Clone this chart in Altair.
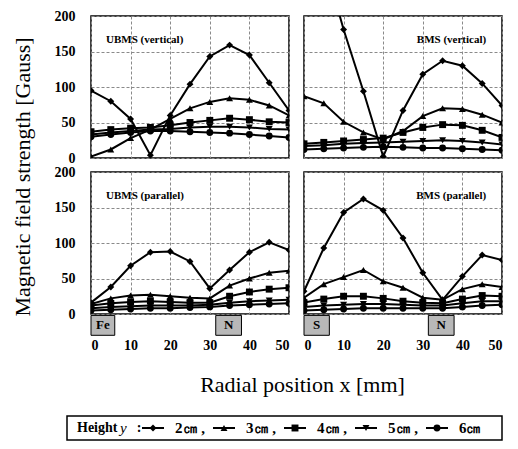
import altair as alt
import pandas as pd

FONT = "'Liberation Serif', 'Times New Roman', 'DejaVu Serif', serif"

# radial positions (mm)
x_pos = [0, 5, 10, 15, 20, 25, 30, 35, 40, 45, 50]
heights = ["2cm", "3cm", "4cm", "5cm", "6cm"]
shapes = ["diamond", "triangle-up", "square", "triangle-down", "circle"]
legend_labels = ["2㎝ ,", "3㎝ ,", "4㎝ ,", "5㎝ ,", "6㎝"]

# UBMS (vertical)
ubms_v_2 = [95, 80, 55, 4, 60, 104, 143, 159, 145, 106, 67]
ubms_v_3 = [2, 12, 28, 40, 55, 70, 79, 84, 82, 74, 60]
ubms_v_4 = [37, 40, 42, 43, 46, 50, 53, 56, 54, 51, 50]
ubms_v_5 = [33, 36, 38, 40, 41, 43, 44, 44, 43, 41, 40]
ubms_v_6 = [30, 33, 36, 38, 38, 37, 36, 35, 33, 31, 29]

# BMS (vertical)
bms_v_2 = [360, 280, 181, 94, 2, 67, 118, 137, 130, 105, 74]
bms_v_3 = [87, 77, 51, 36, 26, 38, 59, 70, 69, 61, 50]
bms_v_4 = [20, 22, 24, 26, 28, 36, 43, 47, 46, 39, 29]
bms_v_5 = [17, 18, 20, 21, 22, 23, 24, 25, 24, 22, 19]
bms_v_6 = [12, 13, 14, 15, 16, 15, 14, 14, 13, 12, 11]

# UBMS (parallel)
ubms_p_2 = [16, 38, 68, 87, 88, 74, 36, 62, 87, 101, 90]
ubms_p_3 = [14, 22, 26, 27, 25, 23, 22, 40, 50, 58, 61]
ubms_p_4 = [12, 15, 17, 18, 17, 16, 16, 25, 31, 35, 37]
ubms_p_5 = [8, 10, 11, 12, 12, 12, 13, 16, 18, 19, 20]
ubms_p_6 = [5, 6, 7, 8, 8, 9, 10, 12, 13, 14, 15]

# BMS (parallel)
bms_p_2 = [32, 93, 143, 162, 146, 107, 58, 20, 53, 83, 76]
bms_p_3 = [23, 42, 52, 62, 46, 37, 23, 20, 35, 42, 38]
bms_p_4 = [16, 21, 25, 25, 22, 18, 16, 15, 21, 26, 25]
bms_p_5 = [10, 12, 13, 14, 14, 13, 12, 12, 15, 18, 18]
bms_p_6 = [5, 6, 7, 8, 8, 8, 8, 8, 10, 12, 13]

panel_titles = ["UBMS (vertical)", "BMS (vertical)", "UBMS (parallel)", "BMS (parallel)"]
title_x = [3.8, 46, 3.8, 46]
title_y = [166, 166, 166, 166]
title_align = ["left", "right", "left", "right"]

# magnet pole blocks under the lower panels
ubms_poles = ["Fe", "N"]
ubms_pole_from = [0, 31.5]
ubms_pole_to = [6, 38]
bms_poles = ["S", "N"]
bms_pole_from = [0, 31.4]
bms_pole_to = [6.4, 37.9]

x_ticks = [0, 10, 20, 30, 40, 50]
y_ticks = [0, 50, 100, 150, 200]

y_title = "Magnetic field strength [Gauss]"
x_title = "Radial position x [mm]"

W, H = 198, 142


def long_df(series):
    rows = []
    for h, vals in zip(heights, series):
        for xv, v in zip(x_pos, vals):
            rows.append({"x": xv, "v": v, "h": h})
    return pd.DataFrame(rows)


shape_scale = alt.Scale(domain=heights, range=shapes)


def panel(series, k, left, bottom, poles=None):
    df = long_df(series)
    xaxis = alt.Axis(values=x_ticks, grid=True, labels=bottom, title=None,
                     labelPadding=24)
    yaxis = alt.Axis(values=y_ticks, grid=True, labels=left, title=None,
                     labelPadding=16)
    xs = alt.Scale(domain=[0, 50], nice=False, zero=False)
    ys = alt.Scale(domain=[0, 200], nice=False)

    def X(f):
        return alt.X(f, scale=xs, axis=xaxis)

    def Y(f):
        return alt.Y(f, scale=ys, axis=yaxis)

    lines = alt.Chart(df).mark_line(color="black", strokeWidth=2, clip=True).encode(
        x=X("x:Q"), y=Y("v:Q"), detail="h:N", order="x:Q")
    pts = alt.Chart(df).mark_point(filled=True, color="black", size=48, opacity=1,
                                   clip=True).encode(
        x=X("x:Q"), y=Y("v:Q"),
        shape=alt.Shape("h:N", scale=shape_scale, legend=None))
    tdf = pd.DataFrame({"x": [title_x[k]], "v": [title_y[k]], "t": [panel_titles[k]]})
    ttl = alt.Chart(tdf).mark_text(align=title_align[k], baseline="middle", font=FONT,
                                   fontWeight="bold", fontSize=11, color="black").encode(
        x=X("x:Q"), y=Y("v:Q"), text="t:N")
    layers = [lines, pts, ttl]
    if poles is not None:
        names, a, b = poles
        pdf = pd.DataFrame({"x": a, "x2": b, "v": [-2] * len(a), "v2": [-30] * len(a),
                            "name": names})
        pdf["xm"] = (pdf["x"] + pdf["x2"]) / 2
        pdf["vm"] = -16
        rect = alt.Chart(pdf).mark_rect(fill="#b8b8b8", stroke="black", strokeWidth=1).encode(
            x=X("x:Q"), x2="x2:Q", y=Y("v:Q"), y2="v2:Q")
        rtxt = alt.Chart(pdf).mark_text(font=FONT, fontWeight="bold", fontSize=13,
                                        color="black", baseline="middle").encode(
            x=X("xm:Q"), y=Y("vm:Q"), text="name:N")
        layers += [rect, rtxt]
    return alt.layer(*layers).properties(width=W, height=H)


tl = panel([ubms_v_2, ubms_v_3, ubms_v_4, ubms_v_5, ubms_v_6], 0, True, False)
tr = panel([bms_v_2, bms_v_3, bms_v_4, bms_v_5, bms_v_6], 1, False, False)
bl = panel([ubms_p_2, ubms_p_3, ubms_p_4, ubms_p_5, ubms_p_6], 2, True, True,
           (ubms_poles, ubms_pole_from, ubms_pole_to))
br = panel([bms_p_2, bms_p_3, bms_p_4, bms_p_5, bms_p_6], 3, False, True,
           (bms_poles, bms_pole_from, bms_pole_to))

rows = alt.vconcat(alt.hconcat(tl, tr, spacing=15, bounds="flush"),
                   alt.hconcat(bl, br, spacing=15, bounds="flush"),
                   spacing=-2)

no_border = alt.ViewBackground(strokeOpacity=0, strokeWidth=0)

ytitle = alt.Chart(pd.DataFrame({"t": [y_title]})).mark_text(
    angle=270, font=FONT, fontSize=22, color="black", baseline="middle").encode(
    text="t:N").properties(width=22, height=322, view=no_border)

top = alt.hconcat(ytitle, rows, spacing=18)

# legend
leg_df = pd.DataFrame({"h": heights, "i": list(range(5)), "label": legend_labels})
legx = alt.X("i:Q", scale=alt.Scale(domain=[-1.2113, 4.9155], nice=False, zero=False), axis=None)
seg = alt.Chart(leg_df).mark_point(shape="M-1,0L1,0", size=484, filled=False, color="black",
                                   strokeWidth=2, opacity=1).encode(x=legx)
mk = alt.Chart(leg_df).mark_point(filled=True, color="black", size=48, opacity=1).encode(
    x=legx, shape=alt.Shape("h:N", scale=shape_scale, legend=None))
lab = alt.Chart(leg_df).mark_text(align="left", dx=22, font=FONT, fontWeight="bold",
                                  fontSize=15, color="black").encode(x=legx, text="label:N")
h1 = alt.Chart(pd.DataFrame({"t": ["Height"]})).mark_text(
    align="left", font=FONT, fontWeight="bold", fontSize=14, color="black").encode(
    text="t:N", x=alt.value(10))
h2 = alt.Chart(pd.DataFrame({"t": ["y"]})).mark_text(
    align="left", font=FONT, fontStyle="italic", fontSize=15, color="black").encode(
    text="t:N", x=alt.value(53))
h3 = alt.Chart(pd.DataFrame({"t": [":"]})).mark_text(
    align="center", font=FONT, fontWeight="bold", fontSize=14, color="black").encode(
    text="t:N", x=alt.value(72))
legend = alt.layer(seg, mk, lab, h1, h2, h3).properties(
    width=435, height=24,
    title=alt.TitleParams(x_title, font=FONT, fontSize=22, fontWeight="normal",
                          color="black", anchor="middle", dx=18, offset=19))

spacer = alt.Chart(pd.DataFrame({"t": [""]})).mark_text().encode(text="t:N").properties(
    width=49, height=1, view=no_border)

legend_row = alt.hconcat(spacer, legend, spacing=5)

chart = alt.vconcat(top, legend_row, spacing=20).properties(
    padding={"left": 3, "top": 0, "right": 0, "bottom": 0},
    background="white",
).configure_view(
    stroke="black", strokeWidth=1.5
).configure_axis(
    labelFont=FONT, labelFontWeight="bold", labelFontSize=14, labelColor="black",
    gridColor="#8a8a8a", gridDash=[3, 2], gridWidth=1, ticks=False, domain=False
)

chart.save("out.html", embed_options={"renderer": "svg", "actions": False})
